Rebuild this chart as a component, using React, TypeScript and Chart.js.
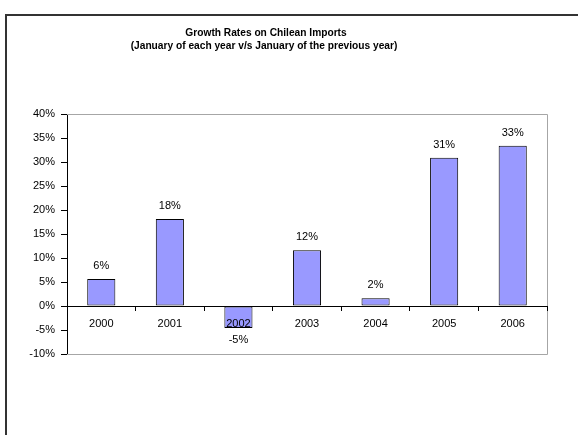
import React, { useEffect, useRef } from "react";
import { Chart, registerables } from "chart.js";

Chart.register(...registerables);

const years = ["2000", "2001", "2002", "2003", "2004", "2005", "2006"];
const growthRates = [5.6, 18.1, -4.6, 11.6, 1.6, 30.9, 33.4];
const yTicks = { min: -10, max: 40, step: 5 };
const titleLines = [
  "Growth Rates on Chilean Imports",
  "(January of each year v/s January of the previous year)",
];

const FONT = "'Liberation Sans', Arial, sans-serif";

const decorPlugin = {
  id: "decor",
  beforeDraw(chart: any) {
    const ctx = chart.ctx;
    ctx.save();
    ctx.fillStyle = "#ffffff";
    ctx.fillRect(0, 0, chart.width, chart.height);
    // outer frame
    ctx.strokeStyle = "#333333";
    ctx.lineWidth = 2;
    ctx.beginPath();
    ctx.moveTo(6, chart.height + 2);
    ctx.lineTo(6, 15);
    ctx.lineTo(chart.width + 2, 15);
    ctx.stroke();
    // title
    ctx.fillStyle = "#000000";
    ctx.font = `bold 10.2px ${FONT}`;
    ctx.textAlign = "center";
    ctx.textBaseline = "middle";
    ctx.fillText(titleLines[0], 266, 33);
    ctx.fillText(titleLines[1], 264, 46);
    ctx.restore();
  },
  beforeDatasetsDraw(chart: any) {
    const { ctx, chartArea } = chart;
    ctx.save();
    ctx.strokeStyle = "#a6a6a6";
    ctx.lineWidth = 1;
    ctx.beginPath();
    ctx.moveTo(chartArea.left, chartArea.top + 0.5);
    ctx.lineTo(chartArea.right + 0.5, chartArea.top + 0.5);
    ctx.lineTo(chartArea.right + 0.5, chartArea.bottom + 0.5);
    ctx.lineTo(chartArea.left, chartArea.bottom + 0.5);
    ctx.stroke();
    ctx.restore();
  },
  afterDraw(chart: any) {
    const ctx = chart.ctx;
    const meta = chart.getDatasetMeta(0);
    ctx.save();
    ctx.fillStyle = "#000000";
    ctx.font = `11px ${FONT}`;
    ctx.textAlign = "center";
    ctx.textBaseline = "middle";
    meta.data.forEach((bar: any, i: number) => {
      const v = growthRates[i];
      const label = Math.round(v) + "%";
      if (v >= 0) ctx.fillText(label, bar.x, bar.y - 13);
      else ctx.fillText(label, bar.x, bar.y + 12);
    });
    ctx.restore();
  },
};

export default function App() {
  const ref = useRef<HTMLCanvasElement>(null);
  useEffect(() => {
    if (!ref.current) return;
    Chart.defaults.font.family = FONT;
    const chart = new Chart(ref.current, {
      type: "bar",
      data: {
        labels: years,
        datasets: [
          {
            data: growthRates,
            backgroundColor: "#9999ff",
            borderColor: "#000000",
            borderWidth: 1,
            borderSkipped: false,
            categoryPercentage: 1,
            barPercentage: 0.41,
          },
        ],
      },
      options: {
        animation: false,
        responsive: false,
        layout: { padding: { left: 7, right: 31, top: 114, bottom: 81 } },
        plugins: {
          legend: { display: false },
          title: { display: false },
          tooltip: { enabled: false },
        },
        scales: {
          x: {
            position: { y: 0 } as any,
            offset: true,
            afterFit: (s: any) => {
              s.height = 0;
            },
            grid: {
              offset: true,
              drawOnChartArea: false,
              drawTicks: true,
              tickLength: 4,
              color: "#000000",
              z: 1,
            },
            border: { color: "#000000", width: 1, z: 1 },
            ticks: {
              color: "#000000",
              font: { size: 11, family: FONT },
              padding: 7,
              maxRotation: 0,
              z: 1,
            },
          },
          y: {
            min: yTicks.min,
            max: yTicks.max,
            afterFit: (s: any) => {
              s.width = 60;
            },
            grid: {
              drawOnChartArea: false,
              drawTicks: true,
              tickLength: 6,
              color: "#000000",
            },
            border: { color: "#000000", width: 1 },
            ticks: {
              stepSize: yTicks.step,
              color: "#000000",
              font: { size: 11, family: FONT },
              padding: 6,
              callback: (v: any) => v + "%",
            },
          },
        },
      },
      plugins: [decorPlugin],
    });
    return () => chart.destroy();
  }, []);
  return (
    <canvas
      ref={ref}
      width={578}
      height={435}
      style={{ position: "absolute", left: 0, top: 0, display: "block" }}
    />
  );
}
